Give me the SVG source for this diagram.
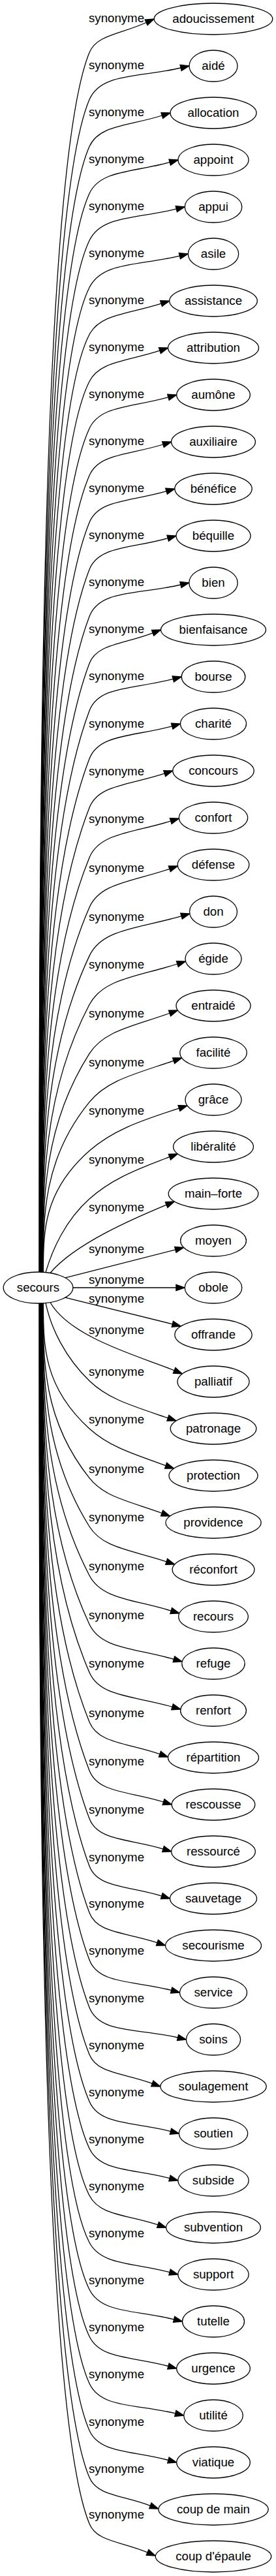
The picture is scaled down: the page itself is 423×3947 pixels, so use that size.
<svg xmlns="http://www.w3.org/2000/svg" width="423" height="3947" viewBox="0 0 423 3947">
<style>
.n ellipse{fill:#fff;stroke:#000;stroke-width:1.3}
.t{font-family:"Liberation Sans",Arial,sans-serif;font-size:18.67px;text-anchor:middle;fill:#000}
.e path{fill:none;stroke:#000;stroke-width:1.3;marker-end:url(#arr)}
</style>
<defs>
<marker id="arr" markerUnits="userSpaceOnUse" orient="auto" markerWidth="16" markerHeight="12" refX="1" refY="6" viewBox="0 0 16 12" overflow="visible"><path d="M1,1.33 L14.3,6 L1,10.67 z" fill="#000" stroke="#000" stroke-width="1.3"/></marker>
</defs>
<rect width="423" height="3947" fill="#fff"/>
<g id="edges" class="e">
<path d="M60,1949.2 C60,1326.3 60,267.4 137,80.5 C148.3,53.1 183.8,52.9 224.1,34.5"/>
<path d="M60.3,1949.2 C60.3,1350.3 60.3,332.2 137,152.5 C154.5,111.6 212.1,119.2 277.1,104"/>
<path d="M60.6,1949.2 C60.6,1374.3 60.6,397 137,224.5 C151.7,191.3 196.4,193.5 248.3,177"/>
<path d="M60.8,1949.2 C60.8,1398.3 60.8,461.8 137,296.5 C153.6,260.5 202.8,264.5 260.2,248.6"/>
<path d="M61.1,1949.2 C61.1,1422.3 61.1,526.6 137,368.5 C155.4,330.2 208.4,335.6 270.3,320.2"/>
<path d="M61.4,1949.2 C61.4,1446.3 61.4,591.4 137,440.5 C156.7,401.2 211.2,407.3 275.4,392.1"/>
<path d="M61.7,1949.2 C61.7,1470.3 61.7,656.2 137,512.5 C153.7,480.7 195.7,481.6 247,465.1"/>
<path d="M62,1949.2 C62,1494.3 62,732.2 137,584.5 C153,553 194.6,553.9 244.9,537.2"/>
<path d="M62.2,1949.2 C62.2,1518.3 62.2,818.1 137,656.5 C153.4,621.1 201.6,624.6 257.9,608.6"/>
<path d="M62.5,1949.2 C62.5,1542.3 62.5,901.6 137,728.5 C151.5,694.7 197.3,697.4 249.9,681"/>
<path d="M62.8,1949.2 C62.8,1566.3 62.8,982.7 137,800.5 C151.4,765.1 200,768.8 255,752.7"/>
<path d="M63.1,1949.2 C63.1,1590.3 63.1,1061.4 137,872.5 C151.1,836.4 201.3,840.7 257.2,824.7"/>
<path d="M63.4,1949.2 C63.4,1614.3 63.4,1137.6 137,944.5 C152.8,903 212,911.2 276.9,896"/>
<path d="M63.6,1949.2 C63.6,1638.3 63.6,1211.4 137,1016.5 C148.4,986.3 188.8,987.3 234.1,969.8"/>
<path d="M63.9,1949.2 C63.9,1662.5 63.9,1283.2 137,1089 C151.5,1050.4 205.6,1056.2 265.3,1040.4"/>
<path d="M64.2,1949.2 C64.2,1687 64.2,1353.8 137,1162.6 C151.6,1124.4 204.7,1129 263.7,1112.6"/>
<path d="M64.5,1949.2 C64.5,1712 64.5,1423 137,1237.5 C150.8,1202.1 198.2,1203.2 252.2,1185.2"/>
<path d="M64.8,1949.2 C64.8,1737.5 64.8,1490.8 137,1314 C152.5,1276 203.1,1276.6 261.7,1258"/>
<path d="M65,1949.2 C65,1762.9 65,1555.9 137,1390.3 C153.3,1352.8 201.8,1351.2 259.8,1331.3"/>
<path d="M65.3,1949.2 C65.3,1787.7 65.3,1616.6 137,1464.6 C156.7,1422.9 211.7,1423 278,1403.7"/>
<path d="M65.6,1949.2 C65.6,1812.6 65.6,1675 137,1539.3 C157.8,1499.8 208.1,1497.2 271.8,1477"/>
<path d="M65.9,1949.2 C65.9,1837.6 65.9,1725.9 137,1614.3 C159.2,1579.4 201.7,1573.4 260,1552.5"/>
<path d="M66.2,1949.2 C66.2,1862.4 66.2,1775.5 137,1688.7 C164.2,1655.3 204.9,1646.3 266.1,1625.3"/>
<path d="M66.4,1949.2 C66.4,1887.2 66.4,1825.3 137,1763.3 C171.2,1733.2 209.3,1719.2 274.4,1698.1"/>
<path d="M70,1949.6 C80,1915 100,1870 137,1837 C168,1809.3 201.4,1794.5 259.9,1772.7"/>
<path d="M77,1950.5 C115,1905 208.9,1865.2 255.1,1846.1"/>
<path d="M100,1957.9 L268.8,1914.8"/>
<path d="M111.8,1973 L269.9,1973"/>
<path d="M100,1988.1 L264.3,2028.8"/>
<path d="M77,1995.5 C108,2050 216.3,2078.9 267.1,2099.9"/>
<path d="M70,1996.4 C78,2035 100,2080 137,2115.7 C165.8,2143.5 200.7,2153.4 257.4,2172.7"/>
<path d="M66.4,1996.8 C66.4,2060.9 66.4,2124.9 137,2189 C165.9,2215.2 198.9,2226.2 254.1,2245.6"/>
<path d="M66.1,1996.8 C66.1,2086.1 66.1,2175.4 137,2264.7 C160,2293.7 195.9,2299.6 248.1,2318.5"/>
<path d="M65.9,1996.8 C65.9,2110.9 65.9,2224.9 137,2339 C157.6,2372 199.7,2374.5 255.1,2392.8"/>
<path d="M65.6,1996.8 C65.6,2135.9 65.6,2276.6 137,2414 C155.9,2450.3 203.5,2450.2 262.2,2468.1"/>
<path d="M65.3,1996.8 C65.3,2160.8 65.3,2335.4 137,2488.8 C154.8,2526.9 205.9,2524.8 266.4,2542.3"/>
<path d="M65,1996.8 C65,2185.4 65,2395.8 137,2562.5 C153.4,2600.4 204.6,2598 264,2615.3"/>
<path d="M64.8,1996.8 C64.8,2210.7 64.8,2460.7 137,2638.4 C150.4,2671.4 194.4,2670.2 244.9,2687.7"/>
<path d="M64.5,1996.8 C64.5,2235.5 64.5,2527 137,2712.9 C150.4,2747.4 197.6,2744.4 250.5,2761"/>
<path d="M64.2,1996.8 C64.2,2260.1 64.2,2595.2 137,2786.6 C150,2820.9 197.4,2817.1 250,2833.1"/>
<path d="M63.9,1996.8 C63.9,2284.3 63.9,2664.9 137,2859.3 C149.7,2893 196.2,2889.2 247.8,2905.1"/>
<path d="M63.6,1996.8 C63.6,2308.1 63.6,2735.9 137,2930.8 C149,2962.7 192.5,2960.2 240.9,2976.7"/>
<path d="M63.4,1996.8 C63.4,2332.2 63.4,2809.9 137,3003 C151.3,3040.5 204.3,3034.3 262.6,3049.6"/>
<path d="M63.1,1996.8 C63.1,2356.5 63.1,2887.4 137,3076 C152.7,3115.9 209.8,3107.4 272.5,3122"/>
<path d="M62.8,1996.8 C62.8,2380.5 62.8,2966 137,3148 C149,3177.4 188.6,3175.8 233.3,3192.4"/>
<path d="M62.5,1996.8 C62.5,2404.5 62.5,3047.3 137,3220 C152.8,3256.5 203.7,3250.7 261.5,3265.7"/>
<path d="M62.2,1996.8 C62.2,2428.5 62.2,3130.7 137,3292 C153.6,3327.7 202.9,3322.6 260,3337.6"/>
<path d="M62,1996.8 C62,2452.5 62,3216.8 137,3364 C152.6,3394.6 193.2,3392.9 242,3408.9"/>
<path d="M61.7,1996.8 C61.7,2476.5 61.7,3292.1 137,3436 C155.3,3470.9 202.9,3466.6 260,3481.6"/>
<path d="M61.4,1996.8 C61.4,2500.5 61.4,3356.9 137,3508 C155.5,3544.9 206.5,3539 266.6,3553.8"/>
<path d="M61.1,1996.8 C61.1,2524.5 61.1,3421.7 137,3580 C153.8,3615 201.8,3610.3 257.9,3625.5"/>
<path d="M60.8,1996.8 C60.8,2548.5 60.8,3486.5 137,3652 C154.5,3690 207.8,3683.2 268.8,3697.9"/>
<path d="M60.6,1996.8 C60.6,2572.5 60.6,3551.3 137,3724 C152.7,3759.5 201.8,3754.3 257.9,3769.5"/>
<path d="M60.3,1996.8 C60.3,2596.5 60.3,3616.1 137,3796 C149.1,3824.4 187.2,3822.8 230.4,3839.3"/>
<path d="M60,1996.8 C60,2620.2 60,3680 137,3867 C148.4,3894.6 184.9,3893.6 226,3910.9"/>
</g>
<g id="edge-labels" class="t">
<text x="178.5" y="33.8">synonyme</text>
<text x="178.5" y="105.8">synonyme</text>
<text x="178.5" y="177.8">synonyme</text>
<text x="178.5" y="249.8">synonyme</text>
<text x="178.5" y="321.8">synonyme</text>
<text x="178.5" y="393.8">synonyme</text>
<text x="178.5" y="465.8">synonyme</text>
<text x="178.5" y="537.8">synonyme</text>
<text x="178.5" y="609.8">synonyme</text>
<text x="178.5" y="681.8">synonyme</text>
<text x="178.5" y="753.8">synonyme</text>
<text x="178.5" y="825.8">synonyme</text>
<text x="178.5" y="897.8">synonyme</text>
<text x="178.5" y="969.8">synonyme</text>
<text x="178.5" y="1041.8">synonyme</text>
<text x="178.5" y="1114.8">synonyme</text>
<text x="178.5" y="1187.9">synonyme</text>
<text x="178.5" y="1261.3">synonyme</text>
<text x="178.5" y="1336.3">synonyme</text>
<text x="178.5" y="1411.1">synonyme</text>
<text x="178.5" y="1483.9">synonyme</text>
<text x="178.5" y="1558.6">synonyme</text>
<text x="178.5" y="1633.6">synonyme</text>
<text x="178.5" y="1708">synonyme</text>
<text x="178.5" y="1782.6">synonyme</text>
<text x="178.5" y="1856.3">synonyme</text>
<text x="178.5" y="1920.3">synonyme</text>
<text x="178.5" y="1967">synonyme</text>
<text x="178.5" y="1996">synonyme</text>
<text x="178.5" y="2043.6">synonyme</text>
<text x="178.5" y="2108">synonyme</text>
<text x="178.5" y="2181.3">synonyme</text>
<text x="178.5" y="2257">synonyme</text>
<text x="178.5" y="2331.3">synonyme</text>
<text x="178.5" y="2406.3">synonyme</text>
<text x="178.5" y="2481.1">synonyme</text>
<text x="178.5" y="2554.8">synonyme</text>
<text x="178.5" y="2630.7">synonyme</text>
<text x="178.5" y="2705.2">synonyme</text>
<text x="178.5" y="2778.9">synonyme</text>
<text x="178.5" y="2851.6">synonyme</text>
<text x="178.5" y="2923.1">synonyme</text>
<text x="178.5" y="2995.3">synonyme</text>
<text x="178.5" y="3068.2">synonyme</text>
<text x="178.5" y="3140.3">synonyme</text>
<text x="178.5" y="3212.3">synonyme</text>
<text x="178.5" y="3284.3">synonyme</text>
<text x="178.5" y="3356.3">synonyme</text>
<text x="178.5" y="3428.3">synonyme</text>
<text x="178.5" y="3500.3">synonyme</text>
<text x="178.5" y="3572.3">synonyme</text>
<text x="178.5" y="3644.3">synonyme</text>
<text x="178.5" y="3717">synonyme</text>
<text x="178.5" y="3788.6">synonyme</text>
<text x="178.5" y="3859.3">synonyme</text>
</g>
<g id="node-secours" class="n"><ellipse cx="58.5" cy="1973" rx="53.3" ry="24"/><text class="t" x="58.5" y="1979">secours</text></g>
<g id="node-adoucissement" class="n"><ellipse cx="327" cy="29" rx="90.8" ry="24"/><text class="t" x="327" y="35">adoucissement</text></g>
<g id="node-aide" class="n"><ellipse cx="327" cy="101" rx="37" ry="24"/><text class="t" x="327" y="107">aidé</text></g>
<g id="node-allocation" class="n"><ellipse cx="327" cy="173" rx="66" ry="24"/><text class="t" x="327" y="179">allocation</text></g>
<g id="node-appoint" class="n"><ellipse cx="327" cy="245" rx="54" ry="24"/><text class="t" x="327" y="251">appoint</text></g>
<g id="node-appui" class="n"><ellipse cx="327" cy="317" rx="43.8" ry="24"/><text class="t" x="327" y="323">appui</text></g>
<g id="node-asile" class="n"><ellipse cx="327" cy="389" rx="38.7" ry="24"/><text class="t" x="327" y="395">asile</text></g>
<g id="node-assistance" class="n"><ellipse cx="327" cy="461" rx="67.3" ry="24"/><text class="t" x="327" y="467">assistance</text></g>
<g id="node-attribution" class="n"><ellipse cx="327" cy="533" rx="69.5" ry="24"/><text class="t" x="327" y="539">attribution</text></g>
<g id="node-aumone" class="n"><ellipse cx="327" cy="605" rx="56.3" ry="24"/><text class="t" x="327" y="611">aumône</text></g>
<g id="node-auxiliaire" class="n"><ellipse cx="327" cy="677" rx="64.4" ry="24"/><text class="t" x="327" y="683">auxiliaire</text></g>
<g id="node-benefice" class="n"><ellipse cx="327" cy="749" rx="59.2" ry="24"/><text class="t" x="327" y="755">bénéfice</text></g>
<g id="node-bequille" class="n"><ellipse cx="327" cy="821" rx="57" ry="24"/><text class="t" x="327" y="827">béquille</text></g>
<g id="node-bien" class="n"><ellipse cx="327" cy="893" rx="37.2" ry="24"/><text class="t" x="327" y="899">bien</text></g>
<g id="node-bienfaisance" class="n"><ellipse cx="327" cy="965" rx="80.5" ry="24"/><text class="t" x="327" y="971">bienfaisance</text></g>
<g id="node-bourse" class="n"><ellipse cx="327" cy="1037" rx="48.8" ry="24"/><text class="t" x="327" y="1043">bourse</text></g>
<g id="node-charite" class="n"><ellipse cx="327" cy="1109" rx="50.5" ry="24"/><text class="t" x="327" y="1115">charité</text></g>
<g id="node-concours" class="n"><ellipse cx="327" cy="1181" rx="62.2" ry="24"/><text class="t" x="327" y="1187">concours</text></g>
<g id="node-confort" class="n"><ellipse cx="327" cy="1253" rx="52.6" ry="24"/><text class="t" x="327" y="1259">confort</text></g>
<g id="node-defense" class="n"><ellipse cx="327" cy="1325" rx="54.8" ry="24"/><text class="t" x="327" y="1331">défense</text></g>
<g id="node-don" class="n"><ellipse cx="327" cy="1397" rx="36.5" ry="24"/><text class="t" x="327" y="1403">don</text></g>
<g id="node-egide" class="n"><ellipse cx="327" cy="1469" rx="43.1" ry="24"/><text class="t" x="327" y="1475">égide</text></g>
<g id="node-entraide" class="n"><ellipse cx="327" cy="1541" rx="57" ry="24"/><text class="t" x="327" y="1547">entraidé</text></g>
<g id="node-facilite" class="n"><ellipse cx="327" cy="1613" rx="51.2" ry="24"/><text class="t" x="327" y="1619">facilité</text></g>
<g id="node-grace" class="n"><ellipse cx="327" cy="1685" rx="43.1" ry="24"/><text class="t" x="327" y="1691">grâce</text></g>
<g id="node-liberalite" class="n"><ellipse cx="327" cy="1757" rx="61.4" ry="24"/><text class="t" x="327" y="1763">libéralité</text></g>
<g id="node-main-forte" class="n"><ellipse cx="327" cy="1829" rx="68.8" ry="24"/><text class="t" x="327" y="1835">main–forte</text></g>
<g id="node-moyen" class="n"><ellipse cx="327" cy="1901" rx="50.4" ry="24"/><text class="t" x="327" y="1907">moyen</text></g>
<g id="node-obole" class="n"><ellipse cx="327" cy="1973" rx="43.8" ry="24"/><text class="t" x="327" y="1979">obole</text></g>
<g id="node-offrande" class="n"><ellipse cx="327" cy="2045" rx="59.2" ry="24"/><text class="t" x="327" y="2051">offrande</text></g>
<g id="node-palliatif" class="n"><ellipse cx="327" cy="2117" rx="55" ry="24"/><text class="t" x="327" y="2123">palliatif</text></g>
<g id="node-patronage" class="n"><ellipse cx="327" cy="2189" rx="65.8" ry="24"/><text class="t" x="327" y="2195">patronage</text></g>
<g id="node-protection" class="n"><ellipse cx="327" cy="2261" rx="68" ry="24"/><text class="t" x="327" y="2267">protection</text></g>
<g id="node-providence" class="n"><ellipse cx="327" cy="2333" rx="73.1" ry="24"/><text class="t" x="327" y="2339">providence</text></g>
<g id="node-reconfort" class="n"><ellipse cx="327" cy="2405" rx="62.9" ry="24"/><text class="t" x="327" y="2411">réconfort</text></g>
<g id="node-recours" class="n"><ellipse cx="327" cy="2477" rx="53.3" ry="24"/><text class="t" x="327" y="2483">recours</text></g>
<g id="node-refuge" class="n"><ellipse cx="327" cy="2549" rx="48.2" ry="24"/><text class="t" x="327" y="2555">refuge</text></g>
<g id="node-renfort" class="n"><ellipse cx="327" cy="2621" rx="50.4" ry="24"/><text class="t" x="327" y="2627">renfort</text></g>
<g id="node-repartition" class="n"><ellipse cx="327" cy="2693" rx="69.5" ry="24"/><text class="t" x="327" y="2699">répartition</text></g>
<g id="node-rescousse" class="n"><ellipse cx="327" cy="2765" rx="63.8" ry="24"/><text class="t" x="327" y="2771">rescousse</text></g>
<g id="node-ressource" class="n"><ellipse cx="327" cy="2837" rx="64.3" ry="24"/><text class="t" x="327" y="2843">ressourcé</text></g>
<g id="node-sauvetage" class="n"><ellipse cx="327" cy="2909" rx="66.5" ry="24"/><text class="t" x="327" y="2915">sauvetage</text></g>
<g id="node-secourisme" class="n"><ellipse cx="327" cy="2981" rx="73.5" ry="24"/><text class="t" x="327" y="2987">secourisme</text></g>
<g id="node-service" class="n"><ellipse cx="327" cy="3053" rx="51.5" ry="24"/><text class="t" x="327" y="3059">service</text></g>
<g id="node-soins" class="n"><ellipse cx="327" cy="3125" rx="41.6" ry="24"/><text class="t" x="327" y="3131">soins</text></g>
<g id="node-soulagement" class="n"><ellipse cx="327" cy="3197" rx="81.2" ry="24"/><text class="t" x="327" y="3203">soulagement</text></g>
<g id="node-soutien" class="n"><ellipse cx="327" cy="3269" rx="52.6" ry="24"/><text class="t" x="327" y="3275">soutien</text></g>
<g id="node-subside" class="n"><ellipse cx="327" cy="3341" rx="54.1" ry="24"/><text class="t" x="327" y="3347">subside</text></g>
<g id="node-subvention" class="n"><ellipse cx="327" cy="3413" rx="72.4" ry="24"/><text class="t" x="327" y="3419">subvention</text></g>
<g id="node-support" class="n"><ellipse cx="327" cy="3485" rx="54.1" ry="24"/><text class="t" x="327" y="3491">support</text></g>
<g id="node-tutelle" class="n"><ellipse cx="327" cy="3557" rx="47.5" ry="24"/><text class="t" x="327" y="3563">tutelle</text></g>
<g id="node-urgence" class="n"><ellipse cx="327" cy="3629" rx="56.3" ry="24"/><text class="t" x="327" y="3635">urgence</text></g>
<g id="node-utilite" class="n"><ellipse cx="327" cy="3701" rx="45.3" ry="24"/><text class="t" x="327" y="3707">utilité</text></g>
<g id="node-viatique" class="n"><ellipse cx="327" cy="3773" rx="56.3" ry="24"/><text class="t" x="327" y="3779">viatique</text></g>
<g id="node-coup-de-main" class="n"><ellipse cx="327" cy="3845" rx="84.2" ry="24"/><text class="t" x="327" y="3851">coup de main</text></g>
<g id="node-coup-d-epaule" class="n"><ellipse cx="327" cy="3917" rx="88.7" ry="24"/><text class="t" x="327" y="3923">coup d'épaule</text></g>
</svg>
